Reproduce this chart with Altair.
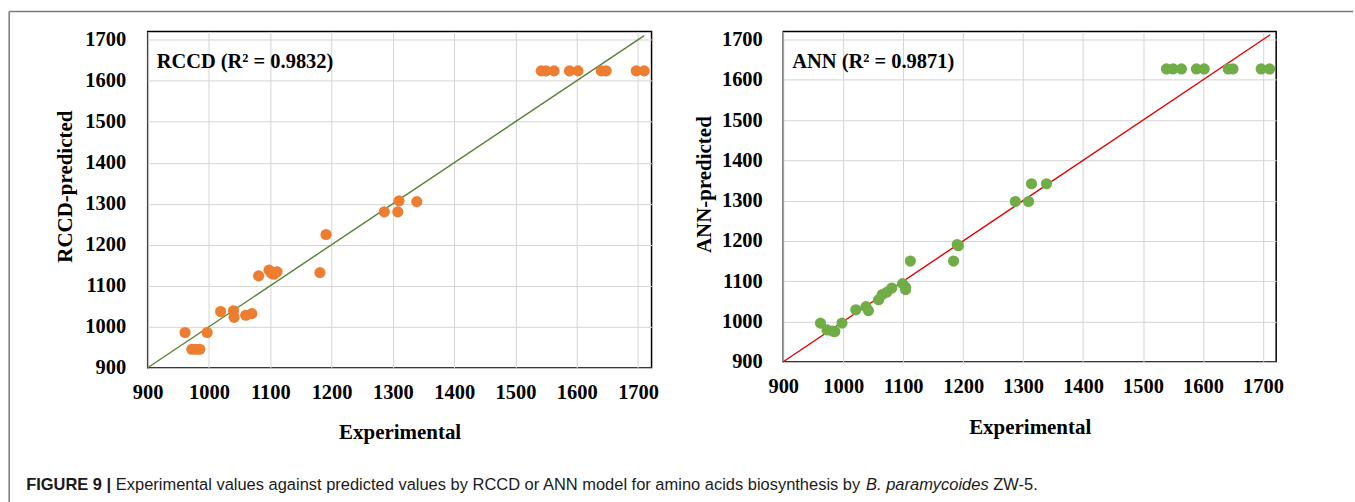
import altair as alt
import pandas as pd

# ---------------- data ----------------
ticks = [900, 1000, 1100, 1200, 1300, 1400, 1500, 1600, 1700]

rccd_exp = [961, 972, 979, 985, 997, 1019, 1040, 1041, 1060, 1070, 1081, 1098, 1102,
            1106, 1111, 1181, 1191, 1286, 1308, 1310, 1339,
            1542, 1550, 1563, 1588, 1602, 1640, 1648, 1697, 1710]
rccd_pred = [986, 945, 945, 945, 986, 1037, 1039, 1023, 1028, 1032, 1124, 1138, 1130,
             1128, 1134, 1132, 1225, 1280, 1280, 1307, 1305,
             1624, 1624, 1624, 1624, 1624, 1624, 1624, 1624, 1624]

ann_exp = [962, 973, 982, 986, 998, 1021, 1038, 1042, 1059, 1065, 1073, 1081, 1099,
           1104, 1104, 1112, 1184, 1190, 1192, 1287, 1309, 1314, 1339,
           1539, 1550, 1564, 1589, 1602, 1642, 1650, 1697, 1711]
ann_pred = [996, 979, 976, 975, 996, 1029, 1037, 1027, 1054, 1067, 1073, 1083, 1094,
            1085, 1079, 1150, 1150, 1191, 1188, 1298, 1298, 1342, 1342,
            1627, 1627, 1627, 1627, 1627, 1627, 1627, 1627, 1627]

rccd_line_x = [900, 1710]
ann_line_x = [900, 1712]

rccd_label = "RCCD (R\u00b2 = 0.9832)"
ann_label = "ANN (R\u00b2 = 0.9871)"
x_title = "Experimental"
rccd_ytitle = "RCCD-predicted"
ann_ytitle = "ANN-predicted"

cap_bold = "FIGURE 9 |"
cap_text = "Experimental values against predicted values by RCCD or ANN model for amino acids biosynthesis by"
cap_italic = "B. paramycoides"
cap_end = "ZW-5."

# ---------------- styling ----------------
SERIF = "Liberation Serif"
SANS = "Liberation Sans"
CAP_SIZE = 16.5

# Helvetica/Arial advance widths (per 1000 em) for caption layout
_W = {" ": 278, ".": 278, "-": 333, "|": 260, "(": 333, ")": 333}
_W.update({d: 556 for d in "0123456789"})
_W.update(dict(zip("ABCDEFGHIJKLMNOPQRSTUVWXYZ",
                   [667, 667, 722, 722, 667, 611, 778, 722, 278, 500, 667, 556, 833,
                    722, 778, 667, 778, 722, 667, 611, 722, 667, 944, 667, 667, 611])))
_W.update(dict(zip("abcdefghijklmnopqrstuvwxyz",
                   [556, 556, 500, 556, 556, 278, 556, 556, 222, 222, 500, 222, 833,
                    556, 556, 556, 556, 333, 500, 278, 556, 500, 722, 500, 500, 500])))
_WB = dict(_W)
_WB.update({"U": 722, "R": 722, "|": 280})


def twidth(s, table, size):
    return sum(table.get(c, 556) for c in s) * size / 1000.0


def panel(exp, pred, line_x, color, line_color, ytitle, label, w, h,
          ytitle_x, ytitle_y, xtitle_y, lab_pad_y):
    df = pd.DataFrame({"exp": exp, "pred": pred})
    ldf = pd.DataFrame({"exp": line_x, "pred": line_x})
    xs = alt.Scale(domain=[900, 1722], nice=False, zero=False)
    ys = alt.Scale(domain=[900, 1720], nice=False, zero=False)
    common = dict(grid=True, gridColor="#d4d4d4", gridWidth=1, domain=False,
                  ticks=False, labelFont=SERIF, labelFontWeight="bold",
                  labelFontSize=20.5, labelColor="black", titleFont=SERIF,
                  titleFontWeight="bold", titleFontSize=21, titleColor="black",
                  values=ticks, format="d")
    xax = alt.Axis(title=x_title, labelPadding=15, titleY=xtitle_y,
                   titleBaseline="middle", titleX=w / 2, titleAlign="center",
                   labelFlush=False, **common)
    yax = alt.Axis(title=ytitle, labelPadding=lab_pad_y, titleX=ytitle_x,
                   titleY=ytitle_y, titleAngle=-90, titleBaseline="middle",
                   titleAlign="center", labelFlush=False, **common)
    pts = alt.Chart(df).mark_circle(size=125, opacity=1, color=color).encode(
        x=alt.X("exp:Q", scale=xs, axis=xax),
        y=alt.Y("pred:Q", scale=ys, axis=yax),
    )
    line = alt.Chart(ldf).mark_line(color=line_color, strokeWidth=1.4).encode(
        x=alt.X("exp:Q", scale=xs), y=alt.Y("pred:Q", scale=ys)
    )
    txt = alt.Chart(pd.DataFrame({"t": [label]})).mark_text(
        align="left", baseline="middle", font=SERIF, fontWeight="bold",
        fontSize=20.5, color="black"
    ).encode(x=alt.value(9), y=alt.value(31), text="t:N")
    return [line, pts, txt], w, h


left_layers, lw, lh = panel(rccd_exp, rccd_pred, rccd_line_x, "#ED7D31", "#548235",
                            rccd_ytitle, rccd_label, 505, 337, -82, 155, 65, 22)
right_layers, rw, rh = panel(ann_exp, ann_pred, ann_line_x, "#70AD47", "#E00000",
                             ann_ytitle, ann_label, 494, 331, -79, 153, 66, 21)

# ---- outer figure frame and caption (drawn relative to the left plot area) ----
PL, PT = 146.8, 30.0  # left plot origin in page pixels
one = pd.DataFrame({"k": [0]})
frame_top = alt.Chart(one).mark_rule(color="#7a7a7a", strokeWidth=1.5).encode(
    x=alt.value(8 - PL), x2=alt.value(1355 - PL), y=alt.value(10 - PT))
frame_left = alt.Chart(one).mark_rule(color="#7a7a7a", strokeWidth=1.5).encode(
    x=alt.value(8 - PL), y=alt.value(10 - PT), y2=alt.value(502 - PT))

cx = 25.0
cy = 490.0 - PT
segs = []
x0 = cx
segs.append((cap_bold, x0, "bold", "normal"))
x0 += twidth(cap_bold + " ", _WB, CAP_SIZE)
segs.append((cap_text, x0, "normal", "normal"))
x0 += twidth(cap_text + " ", _W, CAP_SIZE)
segs.append((cap_italic, x0, "normal", "italic"))
x0 += twidth(cap_italic + " ", _W, CAP_SIZE)
segs.append((cap_end, x0, "normal", "normal"))

cap_layers = []
for s, xpos, fw, fs in segs:
    cap_layers.append(
        alt.Chart(pd.DataFrame({"t": [s]})).mark_text(
            align="left", baseline="alphabetic", font=SANS, fontSize=CAP_SIZE,
            fontWeight=fw, fontStyle=fs, color="#1a1a1a"
        ).encode(x=alt.value(xpos - PL), y=alt.value(cy), text="t:N")
    )

left = alt.layer(*left_layers, frame_top, frame_left, *cap_layers).properties(
    width=lw, height=lh)
right = alt.layer(*right_layers).properties(width=rw, height=rh)

chart = alt.hconcat(left, right, spacing=132, bounds="flush").resolve_scale(
    x="independent", y="independent"
).properties(
    padding={"left": 7, "top": 9, "right": 0, "bottom": 0},
    background="white",
).configure_view(stroke="black", strokeWidth=1.5)

chart.save("out.html", embed_options={"renderer": "svg", "actions": False})
